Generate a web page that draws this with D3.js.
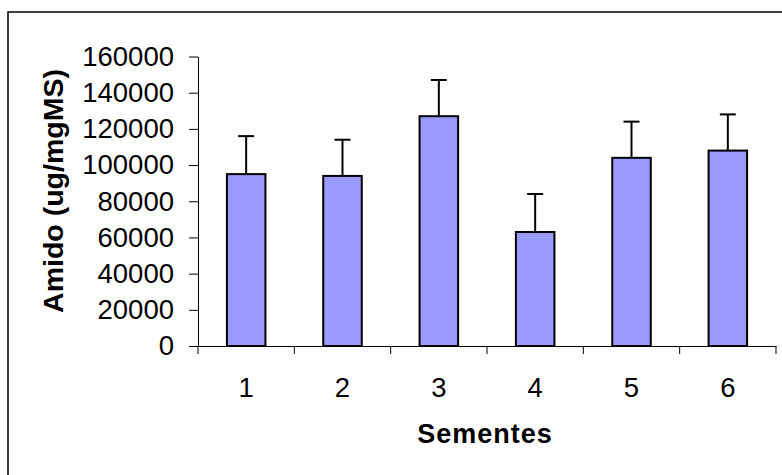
<!DOCTYPE html>
<html>
<head>
<meta charset="utf-8">
<script src="https://d3js.org/d3.v7.min.js"></script>
<style>
    body { margin: 0; background: #fff; }
    text { font-family: Arial, "Liberation Sans", sans-serif; fill: #000; }
    .axis path, .axis line { stroke: #000; }
</style>
</head>
<body>
<svg id="chart" width="782" height="475"></svg>
<script>
// data
const sementes = ["1", "2", "3", "4", "5", "6"];
const amido = [95000, 94000, 127000, 63000, 104000, 108000];
const erro = [21000, 20000, 20000, 21000, 20000, 20000];
const yTicks = [0, 20000, 40000, 60000, 80000, 100000, 120000, 140000, 160000];

const svg = d3.select("#chart");
const margin = {top: 56.5, left: 198, right: 6, bottom: 129};
const width = +svg.attr("width");
const height = +svg.attr("height");
const chartWidth = width - margin.left - margin.right;
const chartHeight = height - margin.top - margin.bottom;

// outer frame
svg.append("rect")
   .attr("x", 8).attr("y", 12)
   .attr("width", 820).attr("height", 520)
   .attr("fill", "none")
   .attr("stroke", "#000")
   .attr("stroke-width", 1.5);

const chartArea = svg.append("g")
    .attr("transform", `translate(${margin.left}, ${margin.top})`);

const x = d3.scaleBand()
    .domain(sementes)
    .range([0, chartWidth])
    .paddingInner(0.6)
    .paddingOuter(0.3);

const y = d3.scaleLinear()
    .domain([0, 160000])
    .range([chartHeight, 0]);

// y axis
const leftAxis = d3.axisLeft(y)
    .tickValues(yTicks)
    .tickFormat(d3.format("d"))
    .tickSize(9)
    .tickSizeOuter(0)
    .tickPadding(15);

chartArea.append("g")
    .attr("class", "axis")
    .call(leftAxis)
    .call(g => g.selectAll("text").style("font-size", "27.5px"));

// x axis: labels under bars, ticks at category boundaries
const bottomAxis = d3.axisBottom(x)
    .tickSize(0)
    .tickSizeOuter(0)
    .tickPadding(31);

const xg = chartArea.append("g")
    .attr("class", "axis")
    .attr("transform", `translate(0, ${chartHeight})`)
    .call(bottomAxis);
xg.selectAll("text").style("font-size", "27.5px");

const step = x.step();
xg.selectAll("line.bound")
  .data(sementes.map(d => x(d) + x.bandwidth() / 2 - step / 2).concat([chartWidth]))
  .enter()
  .append("line")
  .attr("class", "bound")
  .attr("x1", d => d).attr("x2", d => d)
  .attr("y1", 0).attr("y2", 8)
  .attr("stroke", "#000");

// bars
chartArea.selectAll("rect.bar")
    .data(amido)
    .enter()
    .append("rect")
    .attr("class", "bar")
    .attr("x", (d, i) => x(sementes[i]))
    .attr("y", d => y(d))
    .attr("width", x.bandwidth())
    .attr("height", d => y(0) - y(d))
    .attr("fill", "#9999ff")
    .attr("stroke", "#000")
    .attr("stroke-width", 2);

// error bars (upper only)
amido.forEach((d, i) => {
    const cx = x(sementes[i]) + x.bandwidth() / 2;
    chartArea.append("line")
        .attr("x1", cx).attr("x2", cx)
        .attr("y1", y(d)).attr("y2", y(d + erro[i]))
        .attr("stroke", "#000").attr("stroke-width", 2);
    chartArea.append("line")
        .attr("x1", cx - 8).attr("x2", cx + 8)
        .attr("y1", y(d + erro[i])).attr("y2", y(d + erro[i]))
        .attr("stroke", "#000").attr("stroke-width", 2);
});

// axis titles
svg.append("text")
   .attr("transform", `translate(63, 191) rotate(-90)`)
   .attr("text-anchor", "middle")
   .style("font-size", "28.5px")
   .style("font-weight", "bold")
   .text("Amido (ug/mgMS)");

svg.append("text")
   .attr("x", margin.left + chartWidth / 2 - 2)
   .attr("y", 443)
   .attr("text-anchor", "middle")
   .style("font-size", "27px")
   .style("font-weight", "bold")
   .style("letter-spacing", "1px")
   .text("Sementes");
</script>
</body>
</html>
